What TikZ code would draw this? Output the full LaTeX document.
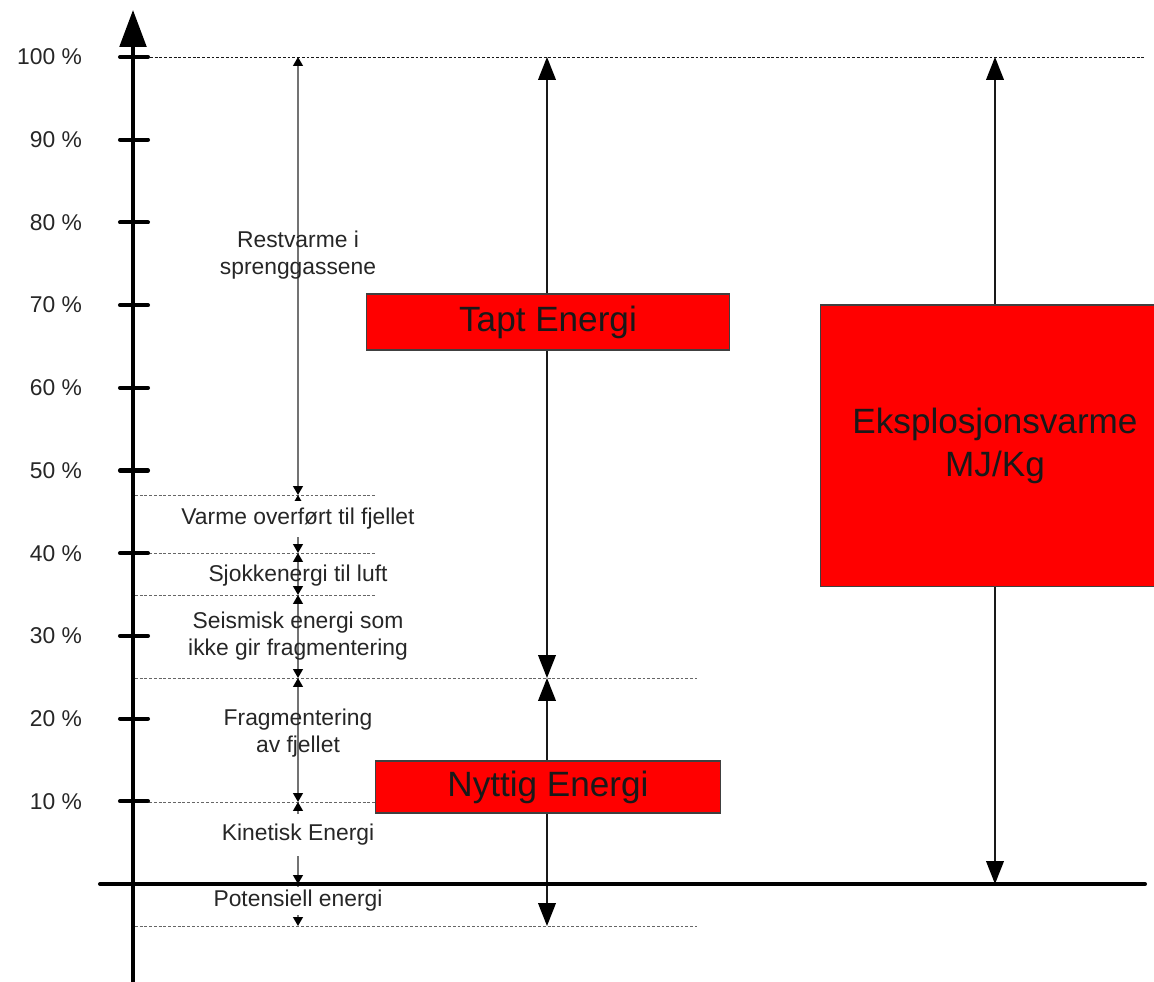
\documentclass[tikz,border=0pt]{standalone}
\usepackage{fontspec}
\setmainfont{Liberation Sans}
\usetikzlibrary{arrows.meta}

\tikzset{
    smaspiss/.tip={Triangle[width=5.5pt,length=5pt,color=black]},
    storspiss/.tip={Triangle[width=10pt,length=13pt,color=black]},
}

\begin{document}
\begin{tikzpicture}[x=0.02cm, y=-0.02cm,
    akse/.style={line width=2.3pt, line cap=round},
    hjelpelinje/.style={black!60, line width=0.5pt, dash pattern=on 1.6pt off 1.1pt},
    smapil/.style={black!55, line width=0.9pt, smaspiss-smaspiss},
    storpil/.style={black!90, line width=1pt, storspiss-storspiss},
    etikett/.style={font=\fontsize{13}{15.5}\selectfont, text=black!85, align=center, inner sep=1pt},
    medhull/.style={fill=white, inner xsep=1pt, inner ysep=4pt},
    rodboks/.style={draw=black!75, line width=0.6pt, fill=red, align=center,
        text=black!90, font=\fontsize{20}{24}\selectfont}]
    % Ramme: 1154 x 982 punkter
    \useasboundingbox (0,0) rectangle (1154,982);
    \clip (0,0) rectangle (1154,982);

    % Nivaaer (venstre, midten, hoyre kolonne)
    \coordinate (a100) at (298,57);
    \coordinate (a47)  at (298,495);
    \coordinate (a40)  at (298,553);
    \coordinate (a35)  at (298,595);
    \coordinate (a25)  at (298,678);
    \coordinate (a10)  at (298,802);
    \coordinate (a0)   at (298,884);
    \coordinate (am5)  at (298,926);
    \coordinate (m100) at (547,57);
    \coordinate (m25)  at (547,678);
    \coordinate (mm5)  at (547,926);
    \coordinate (r100) at (995,57);
    \coordinate (r0)   at (995,884);

    % Stiplede hjelpelinjer
    \draw[hjelpelinje, black!90] (150,57) -- (1145,57);
    \foreach \y in {495,553,595,802} {
        \draw[hjelpelinje] (135,\y) -- (375,\y);
    }
    \foreach \y in {678,926} {
        \draw[hjelpelinje] (135,\y) -- (697,\y);
    }

    % Piler, venstre kolonne
    \draw[smapil] (a100) -- (a47);
    \draw[smapil] (a47) -- (a40);
    \draw[smapil] (a40) -- (a35);
    \draw[smapil] (a35) -- (a25);
    \draw[smapil] (a25) -- (a10);
    \draw[smapil] (a10) -- (a0);
    \draw[smapil, -smaspiss] (a0) -- (am5);

    % Piler, midten og hoyre
    \draw[storpil] (m100) -- (m25);
    \draw[storpil] (m25) -- (mm5);
    \draw[storpil] (r100) -- (r0);

    % Etiketter
    \node[etikett] (rest)  at (298,255) {Restvarme i\\sprenggassene};
    \node[etikett, medhull] (varme) at (298,519) {Varme overført til fjellet};
    \node[etikett] (sjokk) at (298,576) {Sjokkenergi til luft};
    \node[etikett] (seism) at (298,636) {Seismisk energi som\\ikke gir fragmentering};
    \node[etikett] (frag)  at (298,733) {Fragmentering\\av fjellet};
    \node[etikett, medhull, inner ysep=6pt] (kin) at (298,835) {Kinetisk Energi};
    \node[etikett, medhull, inner ysep=2pt] (pot) at (298,901) {Potensiell energi};

    % Roede bokser
    \node[rodboks, minimum width=7.28cm, minimum height=1.12cm] (tapt) at (548,322) {Tapt Energi};
    \node[rodboks, minimum width=6.92cm, minimum height=1.04cm] (nytt) at (548,787) {Nyttig Energi};
    \node[rodboks, minimum width=7cm, minimum height=5.64cm] (eksp) at (995,446) {Eksplosjonsvarme\\MJ/Kg};

    % Akser og skala
    \draw[akse, -{Triangle[width=15pt,length=21pt]}] (133,990) -- (133,10);
    \draw[akse] (100,884) -- (1145,884);
    \foreach \p in {10,20,...,100} {
        \draw[akse] (120,{884-8.27*\p}) -- (148,{884-8.27*\p});
        \node[etikett, anchor=east] (t\p) at (84,{884-8.27*\p}) {\p{} \%};
    }
\end{tikzpicture}
\end{document}
